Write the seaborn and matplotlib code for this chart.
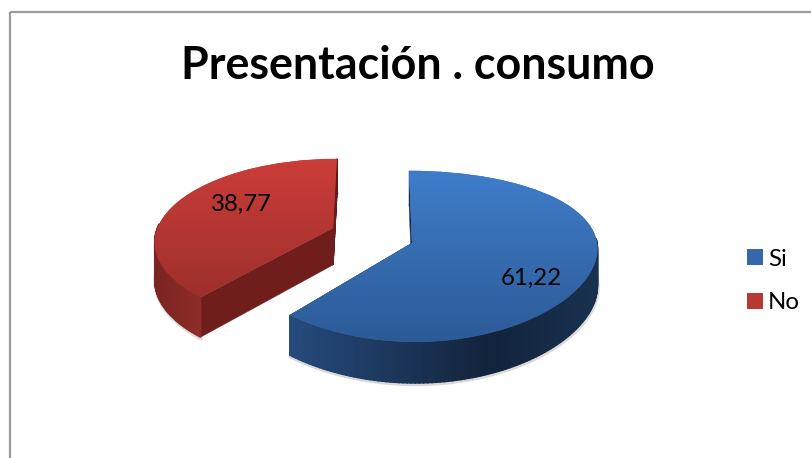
import numpy as np
import matplotlib
matplotlib.use("Agg")
import matplotlib.pyplot as plt
import matplotlib.transforms as mtransforms
from matplotlib.patches import Rectangle
import seaborn as sns

TITLE = "Presentación . consumo"
categories = ["Si", "No"]
values = [61.22, 38.77]
value_labels = ["61,22", "38,77"]

top_colors = [["#3f7dcb", "#2c5a96"], ["#cb3d39", "#9d2f2c"]]
side_stops = [[(290, "#264b7d"), (490, "#12233b"), (597, "#19314f")],
              [(155, "#7a2421"), (200, "#8e2c28")]]
cut_colors = [["#132a48", "#132a48"], ["#5e1917", "#701e1c"]]
legend_colors = ["#3568ab", "#b83834"]

# apex x, apex y, scale y, radius x, skew offset, x tilt, top y, bottom y of gradient
layout = [(412, 243, 83.5, 185, 63, 0.05, 170, 343),
          (333, 228, 80.0, 175.5, -30, 0.15, 159, 300)]
label_pos = [(531, 278), (241, 204)]

sns.set_theme(style="white")
plt.rcParams["font.family"] = ["Lato", "DejaVu Sans"]

fig = plt.figure(figsize=(8.12, 4.58), dpi=100)
ax = fig.add_axes([0, 0, 1, 1])


class Tilt(mtransforms.Transform):
    input_dims = 2
    output_dims = 2
    is_separable = False
    has_inverse = False

    def __init__(self, ax0, ay0, a, rx, off, kx):
        super().__init__()
        self.p = (ax0, ay0, a, rx, off, kx)

    def transform_non_affine(self, pts):
        pts = np.asarray(pts, dtype=float)
        ax0, ay0, a, rx, off, kx = self.p
        x, y = pts[:, 0], pts[:, 1]
        X = ax0 + (rx * x + off) / (1 + kx * y) - off
        Y = ay0 - a * y / (1 + 0.156 * y)
        return np.column_stack([X, Y])


def depth(y):
    return 37 - 4 * np.asarray(y)


wedges, _ = ax.pie(values, startangle=90, counterclock=False,
                   colors=legend_colors, wedgeprops={"linewidth": 0})
ax.set_aspect("auto")
ax.set_frame_on(False)

draw_order = [1, 0]
for rank, i in enumerate(draw_order):
    w = wedges[i]
    base = 3 + rank * 10
    ax0, ay0, a, rx, off, kx, gy0, gy1 = layout[i]
    tilt = Tilt(ax0, ay0, a, rx, off, kx)

    t = np.radians(np.linspace(w.theta1, w.theta2, 181))
    ux, uy = np.cos(t), np.sin(t)
    arc = tilt.transform_non_affine(np.column_stack([ux, uy]))
    d = depth(uy)
    apex = tilt.transform_non_affine(np.zeros((1, 2)))[0]

    # soft shadow beneath the outer wall
    ax.plot(arc[:, 0] + 0.5, arc[:, 1] + d + 1.5, color="#777777", alpha=0.28,
            lw=2.5, zorder=base - 1, solid_capstyle="round")

    # cut faces
    for k, (end, dd) in enumerate([(arc[0], d[0]), (arc[-1], d[-1])]):
        px = [apex[0], end[0], end[0], apex[0]]
        py = [apex[1], end[1], end[1] + dd, apex[1] + 37]
        col = cut_colors[i][0] if k == 0 else cut_colors[i][1]
        ax.fill(px, py, color=col, lw=0.3, zorder=base)
    if i == 1:
        # lit cut face: horizontal blend
        end = arc[0]
        cols = sns.blend_palette(cut_colors[1], 24)
        for j in range(24):
            f0, f1 = j / 24, (j + 1) / 24
            x0 = end[0] + (apex[0] - end[0]) * f0
            y0 = end[1] + (apex[1] - end[1]) * f0
            x1 = end[0] + (apex[0] - end[0]) * f1
            y1 = end[1] + (apex[1] - end[1]) * f1
            dd0 = d[0] + (37 - d[0]) * f0
            dd1 = d[0] + (37 - d[0]) * f1
            ax.fill([x0, x1, x1, x0], [y0, y1, y1 + dd1, y0 + dd0],
                    color=cols[j], lw=1.0, zorder=base + 0.5)

    # outer wall
    xs_stop = [s[0] for s in side_stops[i]]
    rgb_stop = np.array([matplotlib.colors.to_rgb(s[1]) for s in side_stops[i]])
    for j in range(len(arc) - 1):
        if uy[j] > 0.05 and uy[j + 1] > 0.05:
            continue
        xm = 0.5 * (arc[j, 0] + arc[j + 1, 0])
        col = [np.interp(xm, xs_stop, rgb_stop[:, c]) for c in range(3)]
        ax.fill([arc[j, 0], arc[j + 1, 0], arc[j + 1, 0], arc[j, 0]],
                [arc[j, 1], arc[j + 1, 1], arc[j + 1, 1] + d[j + 1], arc[j, 1] + d[j]],
                color=col, lw=1.1, zorder=base + 1)

    # top surface: the pie wedge itself, tilted, with a gradient over it
    w.set_transform(tilt + ax.transData)
    w.set_zorder(base + 2)
    grad = np.array(sns.blend_palette(top_colors[i], 256))[:, None, :3]
    im = ax.imshow(grad, extent=[100, 650, gy1, gy0], aspect="auto",
                   zorder=base + 3, interpolation="bilinear")
    im.set_clip_path(w)

    lx, ly = label_pos[i]
    ax.text(lx, ly, value_labels[i], ha="center", va="center", fontsize=17.3,
            color="black", zorder=40)

ax.set_xlim(0, 812)
ax.set_ylim(458, 0)
ax.set_aspect("auto")

ax.add_patch(Rectangle((10.5, 11.5), 900, 600, fill=False, ec="#9a9a9a", lw=1.6, zorder=1))

ax.text(418, 66, TITLE, ha="center", va="center", fontsize=32.3,
        fontweight="bold", color="black", zorder=40)

handles = [Rectangle((0, 0), 1, 1, fc=c, ec="none") for c in legend_colors]
ax.legend(handles, categories, loc="center left", bbox_to_anchor=(747 / 812, 1 - 281 / 458),
          frameon=False, fontsize=17.3, handlelength=0.65, handleheight=0.65,
          handletextpad=0.22, labelspacing=0.95, borderpad=0, borderaxespad=0,
          labelcolor="black")

fig.savefig("out.png", dpi=100)
